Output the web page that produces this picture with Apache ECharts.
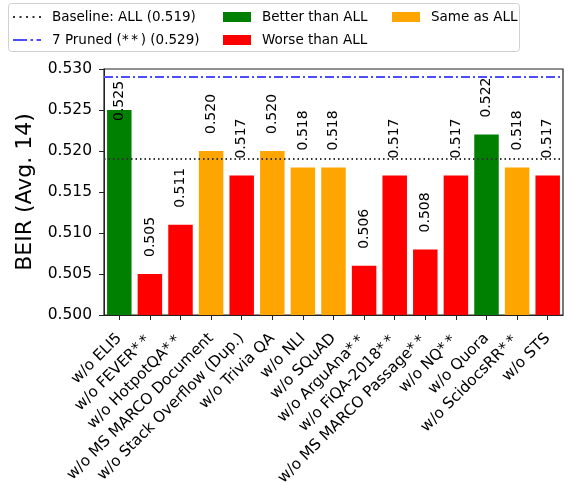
<!DOCTYPE html>
<html><head><meta charset="utf-8">
<script src="https://cdn.jsdelivr.net/npm/echarts@6/dist/echarts.min.js"></script>
<style>html,body{margin:0;padding:0;background:#fff}#c{width:570px;height:485px}</style>
</head><body><div id="c"></div>
<script>
const categories = ["w/o ELI5","w/o FEVER**","w/o HotpotQA**","w/o MS MARCO Document","w/o Stack Overflow (Dup.)","w/o Trivia QA","w/o NLI","w/o SQuAD","w/o ArguAna**","w/o FiQA-2018**","w/o MS MARCO Passage**","w/o NQ**","w/o Quora","w/o ScidocsRR**","w/o STS"];
const values = [0.525,0.505,0.511,0.520,0.517,0.520,0.518,0.518,0.506,0.517,0.508,0.517,0.522,0.518,0.517];
const groups = ["better","worse","worse","same","worse","same","same","same","worse","worse","worse","worse","better","same","worse"];
const baseline = 0.519;
const pruned = 0.529;
const yTicks = [0.500,0.505,0.510,0.515,0.520,0.525,0.530];

const FONT = 'DejaVu Sans';
const starFmt = s => s.replace('**', '*\u2009*\u2009');
const groupInfo = [
  {key:'better', name:'Better than ALL', color:'#008000'},
  {key:'worse', name:'Worse than ALL', color:'#ff0000'},
  {key:'same', name:'Same as ALL', color:'#ffa500'}
];
function barData(key){
  return values.map((v,i)=>{
    if(groups[i]!==key) return '-';
    if(i===0) return {value:v, label:{distance:-11}};
    return v;
  });
}
const barSeries = groupInfo.map(g=>({
  name:g.name, type:'bar', data:barData(g.key), barWidth:'80%', barGap:'-100%',
  itemStyle:{color:g.color},
  label:{show:true, position:'top', rotate:90, align:'left', verticalAlign:'middle', distance:17,
    formatter:p=>Number(p.value).toFixed(3), fontFamily:FONT, fontSize:14, color:'#000'}
}));
const dottedIcon = 'path://M0,0h2v2h-2zM6.5,0h2v2h-2zM13,0h2v2h-2zM19.5,0h2v2h-2zM26,0h2v2h-2z';
const dashDotIcon = 'path://M0,0h14v2h-14zM17.5,0h2.5v2h-2.5zM23.5,0h4.5v2h-4.5z';
const legendText = {fontFamily:FONT, fontSize:13.5, color:'#000', padding:[0,0,0,6]};
const chart = echarts.init(document.getElementById('c'), null, {renderer:'canvas'});
chart.setOption({
  animation:false,
  textStyle:{fontFamily:FONT},
  grid:{left:104, right:7, top:69, bottom:170, outerBoundsMode:'none', containLabel:false,
    show:true, borderColor:'#222', borderWidth:1.2, backgroundColor:'transparent'},
  graphic:[{type:'rect', left:8, top:3, shape:{width:511, height:48, r:3}, style:{fill:'#fff', stroke:'#d0d0d0', lineWidth:1}, z:-1}],
  legend:[
    {left:13, top:10, padding:0, orient:'vertical', itemWidth:28, itemHeight:10, itemGap:9, symbolKeepAspect:true,
     textStyle:legendText, formatter:starFmt,
     data:[{name:'Baseline: ALL (0.519)', icon:dottedIcon},{name:'7 Pruned (**) (0.529)', icon:dashDotIcon}]},
    {left:223, top:10, padding:0, orient:'vertical', itemWidth:28, itemHeight:10, itemGap:9,
     textStyle:legendText,
     data:[{name:'Better than ALL', icon:'rect'},{name:'Worse than ALL', icon:'rect'}]},
    {left:392, top:10, padding:0, orient:'vertical', itemWidth:28, itemHeight:10, itemGap:9,
     textStyle:legendText,
     data:[{name:'Same as ALL', icon:'rect'}]}
  ],
  xAxis:{type:'category', data:categories, boundaryGap:true,
    axisLine:{show:true, lineStyle:{color:'#222'}},
    axisTick:{show:true, alignWithLabel:true, length:5, lineStyle:{color:'#222'}},
    axisLabel:{rotate:45, fontFamily:FONT, fontSize:15.3, color:'#000', margin:21, interval:0, formatter:starFmt}},
  yAxis:{type:'value', min:0.5, max:0.53, interval:0.005,
    name:'BEIR (Avg. 14)', nameLocation:'middle', nameGap:66,
    nameTextStyle:{fontFamily:FONT, fontSize:22, color:'#000'},
    splitLine:{show:false},
    axisLine:{show:true, lineStyle:{color:'#222'}},
    axisTick:{show:true, length:5, lineStyle:{color:'#222'}},
    axisLabel:{fontFamily:FONT, fontSize:15.5, color:'#000', margin:12,
      formatter:v=>{const t=yTicks.find(x=>Math.abs(x-v)<1e-9); return (t!==undefined?t:v).toFixed(3);}}},
  series:[
    {name:'Baseline: ALL (0.519)', type:'line', data:[], symbol:'none',
     itemStyle:{color:'#333'}, lineStyle:{color:'#333', type:[1.5,3], width:1.8},
     markLine:{silent:true, symbol:'none', precision:3, label:{show:false},
       lineStyle:{color:'#333', type:[1.5,3], width:1.8}, data:[{yAxis:baseline}]}},
    {name:'7 Pruned (**) (0.529)', type:'line', data:[], symbol:'none',
     itemStyle:{color:'#4d4dff'}, lineStyle:{color:'#4d4dff', type:[9,3,2,3], width:1.8},
     markLine:{silent:true, symbol:'none', precision:3, label:{show:false},
       lineStyle:{color:'#4d4dff', type:[9,3,2,3], width:1.8}, data:[{yAxis:pruned}]}},
    ...barSeries
  ]
});
</script></body></html>
